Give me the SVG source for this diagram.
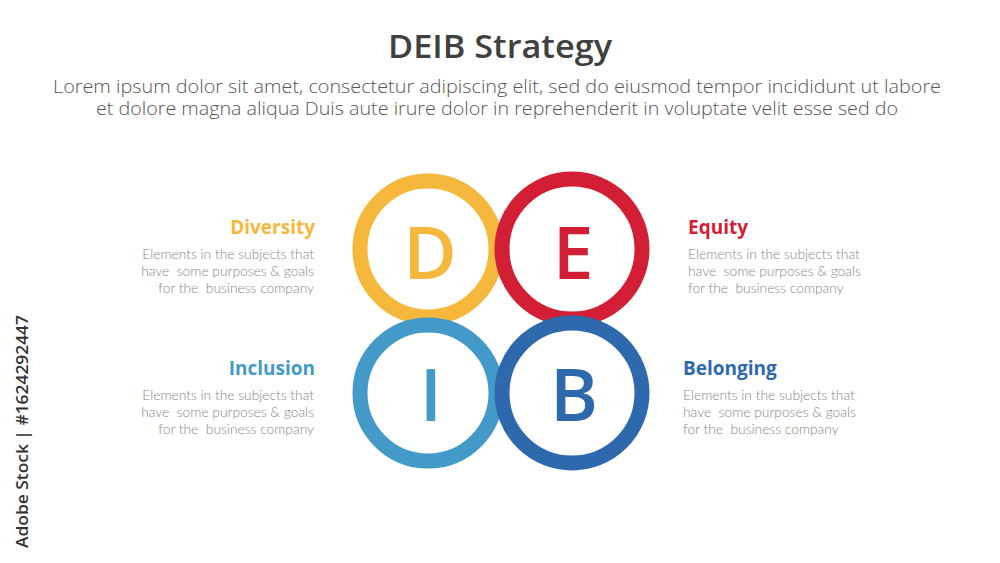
<svg xmlns="http://www.w3.org/2000/svg" width="1000" height="563" viewBox="0 0 1000 563">
<style>
.title{font-family:"Open Sans","Liberation Sans",sans-serif;font-weight:600;font-size:32px;fill:#404040}
.sub{font-family:"Open Sans","Liberation Sans",sans-serif;font-weight:300;font-size:17.5px;fill:#555}
.head{font-family:"Open Sans","Liberation Sans",sans-serif;font-weight:700;font-size:19px}
.body{font-family:Lato,"Liberation Sans",sans-serif;font-weight:300;font-size:13.8px;fill:#858585}
.ring{fill:none;stroke-width:15}
.letter{font-family:"Open Sans","Liberation Sans",sans-serif;font-weight:600;font-size:73px;text-anchor:middle}
.wm{font-family:"Open Sans","Liberation Sans",sans-serif;font-weight:600;font-size:17px;fill:#333}
</style>
<rect width="1000" height="563" fill="#ffffff"/>
<text class="title" x="500" y="58" text-anchor="middle" textLength="224" lengthAdjust="spacingAndGlyphs">DEIB Strategy</text>
<text class="sub" x="497" y="93" text-anchor="middle" textLength="888" lengthAdjust="spacingAndGlyphs">Lorem ipsum dolor sit amet, consectetur adipiscing elit, sed do eiusmod tempor incididunt ut labore</text>
<text class="sub" x="497" y="115" text-anchor="middle" textLength="802" lengthAdjust="spacingAndGlyphs">et dolore magna aliqua Duis aute irure dolor in reprehenderit in voluptate velit esse sed do</text>

<g id="node-D">
<circle class="ring" cx="428" cy="249" r="68" stroke="#F5B83D"/>
<text class="letter" x="430" y="279" fill="#F5B83D">D</text>
</g>
<g id="node-E">
<circle class="ring" cx="572" cy="249" r="70" stroke="#D21F35"/>
<text class="letter" x="573" y="279" fill="#D21F35">E</text>
</g>
<g id="node-I">
<circle class="ring" cx="428" cy="393" r="68" stroke="#4399C8"/>
<text class="letter" x="431" y="421" fill="#4399C8">I</text>
</g>
<g id="node-B">
<circle class="ring" cx="572" cy="393" r="70" stroke="#2E69AD"/>
<text class="letter" x="574" y="421" fill="#2E69AD">B</text>
</g>

<g id="label-diversity" text-anchor="end">
<text class="head" x="315" y="234" fill="#F5B83D">Diversity</text>
<text class="body" x="314" y="259">Elements in the subjects that</text>
<text class="body" x="314" y="276" xml:space="preserve">have  some purposes &amp; goals</text>
<text class="body" x="314" y="293" xml:space="preserve">for the  business company</text>
</g>
<g id="label-inclusion" text-anchor="end">
<text class="head" x="315" y="375" fill="#4399C8">Inclusion</text>
<text class="body" x="314" y="400">Elements in the subjects that</text>
<text class="body" x="314" y="417" xml:space="preserve">have  some purposes &amp; goals</text>
<text class="body" x="314" y="434" xml:space="preserve">for the  business company</text>
</g>
<g id="label-equity">
<text class="head" x="688" y="234" fill="#D21F35">Equity</text>
<text class="body" x="688" y="259">Elements in the subjects that</text>
<text class="body" x="688" y="276" xml:space="preserve">have  some purposes &amp; goals</text>
<text class="body" x="688" y="293" xml:space="preserve">for the  business company</text>
</g>
<g id="label-belonging">
<text class="head" x="683" y="375" fill="#2E69AD">Belonging</text>
<text class="body" x="683" y="400">Elements in the subjects that</text>
<text class="body" x="683" y="417" xml:space="preserve">have  some purposes &amp; goals</text>
<text class="body" x="683" y="434" xml:space="preserve">for the  business company</text>
</g>
<g id="connectors"></g>
<text class="wm" transform="translate(28,548) rotate(-90)" textLength="233" lengthAdjust="spacingAndGlyphs">Adobe Stock | #1624292447</text>
</svg>
